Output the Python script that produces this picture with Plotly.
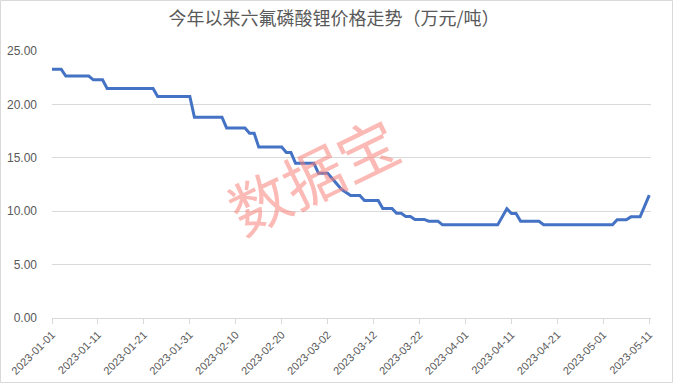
import plotly.graph_objects as go

title_text = "今年以来六氟磷酸锂价格走势（万元/吨）"
watermark_text = "数据宝"

dates = ["2023-01-01", "2023-01-03", "2023-01-04", "2023-01-09", "2023-01-10", "2023-01-12",
         "2023-01-13", "2023-01-23", "2023-01-24", "2023-01-31", "2023-02-01", "2023-02-07",
         "2023-02-08", "2023-02-12", "2023-02-13", "2023-02-14", "2023-02-15", "2023-02-20",
         "2023-02-21", "2023-02-22", "2023-02-23", "2023-02-27", "2023-02-28", "2023-03-02",
         "2023-03-05", "2023-03-07", "2023-03-09", "2023-03-10", "2023-03-13", "2023-03-14",
         "2023-03-16", "2023-03-17", "2023-03-18", "2023-03-19", "2023-03-20", "2023-03-21",
         "2023-03-23", "2023-03-24", "2023-03-26", "2023-03-27", "2023-04-08", "2023-04-10",
         "2023-04-11", "2023-04-12", "2023-04-13", "2023-04-17", "2023-04-18", "2023-05-03",
         "2023-05-04", "2023-05-06", "2023-05-07", "2023-05-09", "2023-05-11"]
prices = [23.3, 23.3, 22.65, 22.65, 22.3, 22.3,
          21.5, 21.5, 20.75, 20.75, 18.8, 18.8,
          17.8, 17.8, 17.3, 17.3, 16.0, 16.0,
          15.5, 15.5, 14.5, 14.5, 13.55, 13.55,
          12.05, 11.48, 11.48, 11.0, 11.0, 10.25,
          10.25, 9.8, 9.8, 9.5, 9.5, 9.23,
          9.23, 9.07, 9.07, 8.72, 8.72, 10.23,
          9.78, 9.78, 9.05, 9.05, 8.74, 8.74,
          9.2, 9.2, 9.47, 9.47, 11.5]

y_ticks = [0, 5, 10, 15, 20, 25]
y_tick_labels = ["0.00", "5.00", "10.00", "15.00", "20.00", "25.00"]

W, H = 674, 383
ML, MR, MT, MB = 52, 23, 51, 65

fig = go.Figure()
fig.add_trace(go.Scatter(
    x=dates, y=prices, mode="lines",
    line=dict(color="#4472C4", width=3),
    hoverinfo="x+y", showlegend=False,
))

pw = W - ML - MR
ph = H - MT - MB

fig.add_annotation(
    text=watermark_text, xref="paper", yref="paper",
    x=(312 - ML) / pw, y=(H - MB - 173) / ph,
    showarrow=False, textangle=-26,
    font=dict(family="Noto Sans CJK SC", size=60, color="rgba(248,130,120,0.55)"),
)

fig.add_shape(
    type="rect", xref="paper", yref="paper",
    x0=(0.5 - ML) / pw, x1=(W - 1.5 - ML) / pw,
    y0=(H - MB - (H - 0.5)) / ph, y1=(H - MB - 0.5) / ph,
    line=dict(color="#d9d9d9", width=1), layer="below",
)

fig.update_layout(
    width=W, height=H,
    margin=dict(l=ML, r=MR, t=MT, b=MB, autoexpand=False),
    paper_bgcolor="white", plot_bgcolor="white",
    title=dict(
        text=title_text, x=(334 - ML) / pw, xref="paper", xanchor="center",
        y=1 - 19 / H, yref="container", yanchor="middle",
        font=dict(family="Noto Sans CJK SC", size=18, color="#595959"),
    ),
)

fig.update_xaxes(
    type="date", automargin=False,
    range=["2023-01-01", "2023-05-11 09:00"],
    tick0="2023-01-01", dtick=10 * 86400000,
    tickformat="%Y-%m-%d", tickangle=-45,
    showgrid=False, showline=True, linecolor="#d9d9d9", linewidth=1,
    ticks="outside", ticklen=5, tickcolor="#d9d9d9",
    tickfont=dict(family="Liberation Sans", size=11, color="#595959"),
    zeroline=False,
)
fig.update_yaxes(
    automargin=False,
    range=[0, 25], tickvals=y_ticks, ticktext=y_tick_labels,
    showgrid=True, gridcolor="#d9d9d9", gridwidth=1,
    showline=False, zeroline=False, ticks="",
    ticklabelstandoff=14,
    tickfont=dict(family="Liberation Sans", size=12, color="#595959"),
)

fig.write_html(
    "out.html",
    config={"displayModeBar": False},
    post_script="document.body.style.margin='0';document.body.style.overflow='hidden';",
)
